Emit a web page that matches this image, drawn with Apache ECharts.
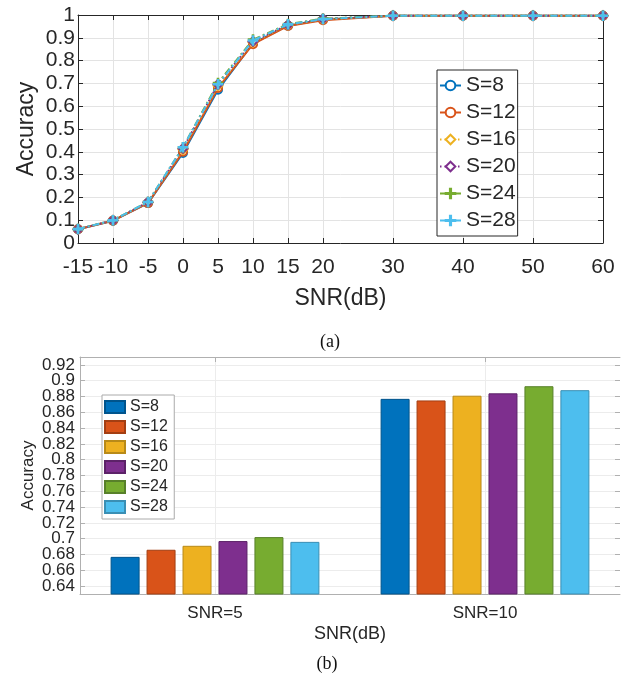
<!DOCTYPE html>
<html><head><meta charset="utf-8">
<script src="https://cdn.jsdelivr.net/npm/echarts@6/dist/echarts.min.js"></script>
<style>html,body{margin:0;padding:0;background:#fff;}#c{width:630px;height:685px;}</style>
</head><body><div id="c"></div>
<script>
// ---- Data: panel (a) ----
const snr = [-15, -10, -5, 0, 5, 10, 15, 20, 30, 40, 50, 60];
const xTicksA = [-15, -10, -5, 0, 5, 10, 15, 20, 30, 40, 50, 60];
const seriesNames = ['S=8', 'S=12', 'S=16', 'S=20', 'S=24', 'S=28'];
const accS8  = [0.060, 0.098, 0.175, 0.395, 0.672, 0.876, 0.953, 0.980, 0.997, 0.997, 0.997, 0.997];
const accS12 = [0.060, 0.098, 0.175, 0.400, 0.680, 0.872, 0.952, 0.977, 0.997, 0.997, 0.997, 0.997];
const accS16 = [0.060, 0.099, 0.178, 0.410, 0.690, 0.880, 0.955, 0.981, 0.997, 0.997, 0.997, 0.997];
const accS20 = [0.060, 0.099, 0.179, 0.415, 0.696, 0.884, 0.957, 0.983, 0.997, 0.997, 0.997, 0.997];
const accS24 = [0.061, 0.100, 0.180, 0.420, 0.702, 0.892, 0.960, 0.984, 0.997, 0.997, 0.997, 0.997];
const accS28 = [0.061, 0.100, 0.180, 0.420, 0.696, 0.888, 0.959, 0.982, 0.997, 0.997, 0.997, 0.997];
// ---- Data: panel (b) ----
const barCategories = ['SNR=5', 'SNR=10'];
const barS8  = [0.677, 0.877];
const barS12 = [0.686, 0.875];
const barS16 = [0.691, 0.881];
const barS20 = [0.697, 0.884];
const barS24 = [0.702, 0.893];
const barS28 = [0.696, 0.888];
const yTicksB = [0.64, 0.66, 0.68, 0.70, 0.72, 0.74, 0.76, 0.78, 0.80, 0.82, 0.84, 0.86, 0.88, 0.90, 0.92];

const colors = ['#0072BD', '#D95319', '#EDB120', '#7E2F8E', '#77AC30', '#4DBEEE'];
const edgeColors = ['#00548c', '#a33e12', '#b88a18', '#5c2268', '#58802a', '#3a8fb4'];
const lineData = [accS8, accS12, accS16, accS20, accS24, accS28];
const barData = [barS8, barS12, barS16, barS20, barS24, barS28];
const yTicksBEven = yTicksB.filter((v, i) => i % 2 === 0);
const yTicksBOdd = yTicksB.filter((v, i) => i % 2 === 1);

const plusPath = 'path://M-1,-0.12 L1,-0.12 L1,0.12 L-1,0.12 Z M-0.12,-1 L0.12,-1 L0.12,1 L-0.12,1 Z';
const symbols = ['emptyCircle', 'emptyCircle', 'emptyDiamond', 'emptyDiamond', plusPath, plusPath];
const symSizes = [8, 8, 9, 9, 9, 9];
const dashes = ['solid', 'solid', [1.5, 3], [1.5, 3], [7, 3, 2, 3], [7, 3, 2, 3]];

const dark = '#262626';
const FONT = '"Liberation Sans", Arial, Helvetica, sans-serif';

const series = [];
lineData.forEach((d, i) => {
  series.push({
    type: 'line', name: seriesNames[i], xAxisIndex: 0, yAxisIndex: 0,
    data: snr.map((x, k) => [x, d[k]]),
    symbol: symbols[i], symbolSize: symSizes[i],
    lineStyle: { color: colors[i], width: 2, type: dashes[i] },
    itemStyle: { color: colors[i], borderColor: colors[i], borderWidth: 1.5 },
    z: 3 + i, animation: false
  });
});
barData.forEach((d, i) => {
  series.push({
    type: 'bar', name: seriesNames[i] + ' ', xAxisIndex: 2, yAxisIndex: 2,
    data: d, barWidth: 29, barGap: '24%',
    itemStyle: { color: colors[i], borderColor: edgeColors[i], borderWidth: 1 },
    animation: false
  });
});

const labelB = (vals) => ({
  customValues: vals, fontSize: 17, color: dark, margin: 5,
  showMinLabel: true, showMaxLabel: true, hideOverlap: false,
  formatter: v => String(+(+v).toFixed(2))
});

const option = {
  animation: false,
  textStyle: { fontFamily: FONT, color: dark },
  title: [
    { text: '(a)', left: 325, top: 328, textAlign: 'center',
      textStyle: { fontFamily: '"Liberation Serif", "Times New Roman", serif', fontSize: 18, fontWeight: 'normal', color: '#111' } },
    { text: '(b)', left: 322, top: 650, textAlign: 'center',
      textStyle: { fontFamily: '"Liberation Serif", "Times New Roman", serif', fontSize: 18, fontWeight: 'normal', color: '#111' } }
  ],
  grid: [
    { left: 78, top: 15, width: 525, height: 228, show: false },
    { left: 80, top: 357, width: 540, height: 237, show: false }
  ],
  legend: [
    {
      data: seriesNames, left: 437, top: 70, orient: 'vertical',
      itemWidth: 21, itemHeight: 12, itemGap: 6,
      padding: [5, 2, 5, 2],
      backgroundColor: '#fff', borderColor: dark, borderWidth: 1,
      textStyle: { fontSize: 21, color: dark, fontFamily: FONT, lineHeight: 21 },
      selectedMode: false
    },
    {
      data: seriesNames.map(n => ({ name: n + ' ', icon: 'rect' })),
      left: 102, top: 395, orient: 'vertical',
      itemWidth: 20, itemHeight: 12, itemGap: 4,
      padding: [4, 2, 4, 2],
      backgroundColor: '#fff', borderColor: '#aaaaaa', borderWidth: 1,
      textStyle: { fontSize: 16, color: dark, fontFamily: FONT, lineHeight: 16 },
      selectedMode: false
    }
  ],
  xAxis: [
    { // 0: panel a bottom
      type: 'value', gridIndex: 0, min: -15, max: 60,
      name: 'SNR(dB)', nameLocation: 'middle', nameGap: 44, nameMoveOverlap: false,
      nameTextStyle: { fontSize: 23, color: dark },
      axisLine: { show: true, onZero: false, lineStyle: { color: dark, width: 1 } },
      axisTick: { show: true, inside: true, length: 5, customValues: xTicksA, lineStyle: { color: dark } },
      axisLabel: { customValues: xTicksA, fontSize: 21, color: dark, margin: 14 },
      splitLine: { show: true, lineStyle: { color: '#e3e3e3', width: 1 } }
    },
    { // 1: panel a top box
      type: 'value', gridIndex: 0, min: -15, max: 60, position: 'top',
      axisLine: { show: true, onZero: false, lineStyle: { color: dark, width: 1 } },
      axisTick: { show: true, inside: true, length: 5, customValues: xTicksA, lineStyle: { color: dark } },
      axisLabel: { show: false }, splitLine: { show: false }
    },
    { // 2: panel b categories
      type: 'category', gridIndex: 1, data: barCategories,
      name: 'SNR(dB)', nameLocation: 'middle', nameGap: 31, nameMoveOverlap: false,
      nameTextStyle: { fontSize: 18, color: dark },
      axisLine: { show: true, onZero: false, lineStyle: { color: '#b0b0b0' } },
      axisTick: { show: false },
      axisLabel: { fontSize: 17, color: dark, margin: 11 },
      splitLine: { show: false }
    },
    { // 3: panel b vertical grid lines at category centers + top box line
      type: 'value', gridIndex: 1, min: 0, max: 4, position: 'top',
      axisLine: { show: true, onZero: false, lineStyle: { color: '#b0b0b0' } },
      axisTick: { show: true, inside: true, length: 5, customValues: [1, 3], lineStyle: { color: '#b0b0b0' } },
      axisLabel: { show: false },
      splitLine: { show: true, lineStyle: { color: '#ececec' } }
    }
  ],
  yAxis: [
    { // 0: panel a left
      type: 'value', gridIndex: 0, min: 0, max: 1, interval: 0.1,
      name: 'Accuracy', nameLocation: 'middle', nameGap: 40, nameRotate: 90, nameMoveOverlap: false,
      nameTextStyle: { fontSize: 23, color: dark },
      axisLine: { show: true, onZero: false, lineStyle: { color: dark, width: 1 } },
      axisTick: { show: true, inside: true, length: 5, lineStyle: { color: dark } },
      axisLabel: { fontSize: 21, color: dark, margin: 3 },
      splitLine: { show: true, lineStyle: { color: '#e3e3e3', width: 1 } }
    },
    { // 1: panel a right box
      type: 'value', gridIndex: 0, min: 0, max: 1, interval: 0.1, position: 'right',
      axisLine: { show: true, onZero: false, lineStyle: { color: dark, width: 1 } },
      axisTick: { show: true, inside: true, length: 5, lineStyle: { color: dark } },
      axisLabel: { show: false }, splitLine: { show: false }
    },
    { // 2: panel b left (even labels)
      type: 'value', gridIndex: 1, min: 0.63, max: 0.93, position: 'left',
      name: 'Accuracy', nameLocation: 'middle', nameGap: 43, nameRotate: 90, nameMoveOverlap: false,
      nameTextStyle: { fontSize: 17, color: dark },
      axisLine: { show: true, onZero: false, lineStyle: { color: '#b0b0b0' } },
      axisTick: { show: true, inside: true, length: 5, customValues: yTicksB, lineStyle: { color: '#b0b0b0' } },
      axisLabel: labelB(yTicksBEven),
      splitLine: { show: true, lineStyle: { color: '#ececec' } }
    },
    { // 3: panel b right ticks
      type: 'value', gridIndex: 1, min: 0.63, max: 0.93, position: 'right',
      axisLine: { show: false, onZero: false },
      axisTick: { show: true, inside: true, length: 5, customValues: yTicksB, lineStyle: { color: '#b0b0b0' } },
      axisLabel: { show: false }, splitLine: { show: false }
    },
    { // 4: panel b left (odd labels)
      type: 'value', gridIndex: 1, min: 0.63, max: 0.93, position: 'left', offset: 0,
      axisLine: { show: false, onZero: false },
      axisTick: { show: false },
      axisLabel: labelB(yTicksBOdd),
      splitLine: { show: false }
    }
  ],
  series: series
};

const chart = echarts.init(document.getElementById('c'), null, { renderer: 'canvas' });
chart.setOption(option);
</script>
</body></html>
